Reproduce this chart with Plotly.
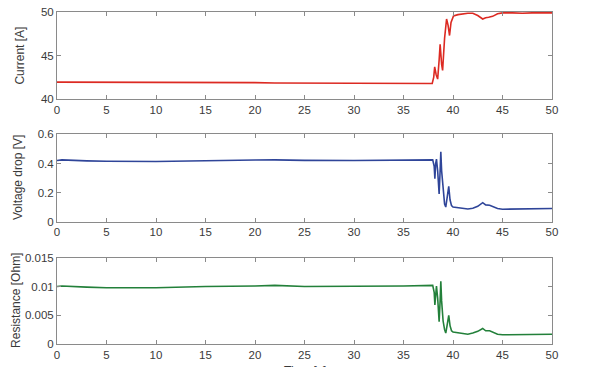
import plotly.graph_objects as go
from plotly.subplots import make_subplots

# ---- data ----
t_cur = [0, 2, 5, 10, 15, 20, 22, 25, 30, 35, 37.9, 38.05, 38.15, 38.3, 38.45, 38.6,
         38.7, 38.85, 38.95, 39.15, 39.35, 39.5, 39.65, 39.8, 40.05, 40.5, 41, 41.5,
         42, 42.5, 43, 43.3, 43.6, 44, 44.5, 45, 46, 47, 48, 49, 50]
current = [41.95, 41.95, 41.93, 41.92, 41.92, 41.9, 41.85, 41.85, 41.83, 41.82, 41.8, 42.5,
           43.7, 42.8, 42.3, 44.5, 46.3, 44.0, 43.3, 47.0, 49.2, 48.5, 47.3, 48.8, 49.55,
           49.7, 49.8, 49.85, 49.85, 49.6, 49.2, 49.35, 49.4, 49.5, 49.8, 49.9, 49.9,
           49.85, 49.9, 49.9, 49.9]

t_volt = [0, 0.5, 3, 5, 10, 12, 15, 20, 22, 25, 30, 35, 37.95, 38.1, 38.17, 38.25, 38.33,
          38.45, 38.6, 38.7, 38.77, 38.85, 39.0, 39.15, 39.27, 39.4, 39.57, 39.7, 39.85,
          40.0, 40.5, 41, 41.5, 42, 42.5, 43, 43.3, 43.7, 44, 44.5, 45, 46, 47, 48, 49, 50]
voltage = [0.42, 0.425, 0.418, 0.415, 0.414, 0.417, 0.42, 0.424, 0.425, 0.421, 0.42, 0.424,
           0.425, 0.38, 0.295, 0.40, 0.43, 0.35, 0.19, 0.35, 0.48, 0.35, 0.20, 0.12, 0.10,
           0.16, 0.243, 0.15, 0.11, 0.10, 0.095, 0.094, 0.087, 0.092, 0.105, 0.13, 0.115,
           0.112, 0.105, 0.09, 0.085, 0.085, 0.087, 0.088, 0.09, 0.09]

t_res = t_volt
resistance = [0.0100, 0.0101, 0.0099, 0.0098, 0.0098, 0.0099, 0.0100, 0.0101, 0.0102,
              0.0100, 0.0100, 0.0101, 0.0102, 0.0090, 0.0068, 0.0095, 0.0101, 0.0080,
              0.0039, 0.0075, 0.0109, 0.0075, 0.0040, 0.0025, 0.0019, 0.0032, 0.0050,
              0.0032, 0.0023, 0.0021, 0.0020, 0.0019, 0.0017, 0.0019, 0.0022, 0.0027,
              0.0023, 0.0023, 0.0021, 0.0017, 0.0016, 0.0016, 0.0017, 0.0017, 0.0017, 0.0017]

x_ticks = [0, 5, 10, 15, 20, 25, 30, 35, 40, 45, 50]
cur_ticks = [40, 45, 50]
volt_ticks = [0, 0.2, 0.4, 0.6]
volt_labels = ["0", "0.2", "0.4", "0.6"]
res_ticks = [0, 0.005, 0.01, 0.015]
res_labels = ["0", "0.005", "0.01", "0.015"]

fig = make_subplots(rows=3, cols=1, shared_xaxes=False)

fig.add_trace(go.Scatter(x=t_cur, y=current, mode="lines",
                         line=dict(color="#dc2a22", width=1.6)), row=1, col=1)
fig.add_trace(go.Scatter(x=t_volt, y=voltage, mode="lines",
                         line=dict(color="#2f4599", width=1.6)), row=2, col=1)
fig.add_trace(go.Scatter(x=t_res, y=resistance, mode="lines",
                         line=dict(color="#23803a", width=1.6)), row=3, col=1)

H = 339.0
W = 495.0
def dom(top_px, bot_px):
    return [(345 - bot_px) / H, (345 - top_px) / H]

FONT = "Liberation Sans"
axis_style = dict(showline=True, linecolor="#8a8a8a", linewidth=1, mirror="ticks",
                  ticks="inside", ticklen=4, tickcolor="#8a8a8a", showgrid=False,
                  zeroline=False, tickfont=dict(family=FONT, size=11.5, color="#3a3a3a"))

panels = [
    ([40, 50], cur_ticks, [str(v) for v in cur_ticks], "Current [A]", 6, 95, 20),
    ([0, 0.6], volt_ticks, volt_labels, "Voltage drop [V]", 131, 220, 18),
    ([0, 0.015], res_ticks, res_labels, "Resistance [Ohm]", 257, 345, 16),
]
for i, (rng, tv, tt, title, top, bot, tx) in enumerate(panels, start=1):
    fig.update_xaxes(range=[0, 50], tickvals=x_ticks, ticktext=[str(v) for v in x_ticks],
                     row=i, col=1, **axis_style)
    fig.update_yaxes(range=rng, tickvals=tv, ticktext=tt, domain=dom(top, bot),
                     row=i, col=1, **axis_style)
    fig.add_annotation(text=title, textangle=-90, x=(tx - 57) / W, xref="paper",
                       y=(345 - (top + bot) / 2) / H, yref="paper",
                       xanchor="center", yanchor="middle", showarrow=False,
                       font=dict(family=FONT, size=12, color="#3a3a3a"))

fig.add_annotation(text="Time [s]", x=0.5, xref="paper", y=(345 - 363) / H, yref="paper",
                   yanchor="top", showarrow=False,
                   font=dict(family=FONT, size=12, color="#3a3a3a"))

fig.update_layout(width=613, height=367, margin=dict(l=57, r=61, t=6, b=22),
                  paper_bgcolor="white", plot_bgcolor="white", showlegend=False)

fig.write_html("out.html")
